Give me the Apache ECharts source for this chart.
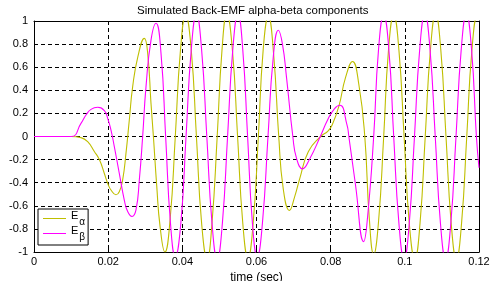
<!DOCTYPE html>
<html>
<head>
<meta charset="utf-8">
<script src="https://cdn.jsdelivr.net/npm/echarts@6/dist/echarts.min.js"></script>
<style>
  html, body { margin: 0; padding: 0; background: #fff; }
  #main { width: 499px; height: 281px; }
</style>
</head>
<body>
<div id="main"></div>
<script>
// tick values
var xTicks = [0, 0.02, 0.04, 0.06, 0.08, 0.1, 0.12];
var yTicks = [-1, -0.8, -0.6, -0.4, -0.2, 0, 0.2, 0.4, 0.6, 0.8, 1];

// E alpha, [time, value]
var alphaData = [
  [0, 0], [0.01, 0], [0.01267, -0.01], [0.01447, -0.045], [0.01627, -0.13], [0.01762, -0.2],
  [0.01897, -0.32], [0.01987, -0.405], [0.02076, -0.463], [0.0221, -0.504], [0.023, -0.478],
  [0.0239, -0.377], [0.0248, -0.146], [0.0257, 0.143], [0.0266, 0.43], [0.028, 0.69],
  [0.02975, 0.85], [0.03066, 0.72], [0.03155, 0.287], [0.0322, 0], [0.0331, -0.43], [0.034, -0.78],
  [0.0353, -1.0], [0.0367, -0.72], [0.0381, 0], [0.0395, 0.75],
  [0.0409, 1.05], [0.0424, 0.75], [0.0438, 0], [0.0452, -0.75], [0.0467, -1.06], [0.0480, -0.75],
  [0.0494, 0], [0.0507, 0.75], [0.0520, 1.06], [0.0535, 0.75], [0.0549, 0], [0.0563, -0.75],
  [0.0577, -1.05], [0.0591, -0.75], [0.0605, 0], [0.0618, 0.75], [0.0632, 1.04], [0.0646, 0.72],
  [0.0660, 0], [0.0672, -0.45], [0.0689, -0.64], [0.0703, -0.52], [0.0717, -0.36], [0.0740, -0.13],
  [0.0773, 0], [0.0792, 0.045], [0.0804, 0.10], [0.0822, 0.26], [0.0840, 0.51], [0.0859, 0.65],
  [0.0876, 0.45], [0.0892, 0], [0.0904, -0.7], [0.0916, -1.02], [0.0929, -0.74], [0.0943, 0],
  [0.0956, 0.75], [0.0970, 1.05], [0.0984, 0.75], [0.0998, 0], [0.1012, -0.75], [0.1027, -1.06],
  [0.1041, -0.75], [0.1055, 0], [0.1069, 0.75], [0.1083, 1.06], [0.1097, 0.75], [0.1111, 0],
  [0.1125, -0.75], [0.1139, -1.06], [0.1153, -0.75], [0.1167, 0], [0.1181, 0.75], [0.1196, 1.05],
  [0.12, 1.02]
];

// E beta
var betaData = [
  [0, 0], [0.01, 0], [0.01267, 0.114], [0.01402, 0.186], [0.01537, 0.235], [0.01717, 0.253],
  [0.01897, 0.224], [0.01987, 0.157], [0.02076, 0.056], [0.02166, -0.088], [0.023, -0.319],
  [0.02435, -0.55], [0.02526, -0.65], [0.02643, -0.693], [0.0275, -0.636], [0.0284, -0.377],
  [0.0293, 0], [0.0302, 0.43], [0.03155, 0.835], [0.0329, 0.98], [0.03425, 0.72], [0.0355, 0],
  [0.0368, -0.75],
  [0.0381, -1.04], [0.0396, -0.75], [0.0410, 0], [0.0424, 0.75], [0.0438, 1.06], [0.0452, 0.75],
  [0.0466, 0], [0.0480, -0.75], [0.0494, -1.06], [0.0508, -0.75], [0.0522, 0], [0.0536, 0.75],
  [0.0550, 1.06], [0.0563, 0.75], [0.0576, 0], [0.0589, -0.75], [0.0602, -1.04], [0.0616, -0.75],
  [0.0631, 0], [0.0645, 0.68], [0.0659, 0.92], [0.0670, 0.8], [0.0681, 0.51], [0.0698, 0],
  [0.0708, -0.19], [0.0724, -0.28], [0.0744, -0.19], [0.0772, 0], [0.0792, 0.145], [0.0810, 0.24],
  [0.0825, 0.27], [0.0844, 0.10], [0.0849, 0], [0.0867, -0.42], [0.0889, -0.91], [0.0900, -0.68],
  [0.0916, 0], [0.0929, 0.75], [0.0943, 1.05], [0.0957, 0.75], [0.0970, 0], [0.0984, -0.75],
  [0.0998, -1.06], [0.1012, -0.75], [0.1026, 0], [0.1040, 0.75], [0.1054, 1.06], [0.1068, 0.75],
  [0.1082, 0], [0.1096, -0.75], [0.1110, -1.06], [0.1124, -0.75], [0.1138, 0], [0.1152, 0.75],
  [0.1166, 1.06], [0.1180, 0.75], [0.1193, 0], [0.12, -0.27]
];

var seriesNames = ['E_alpha', 'E_beta'];
var seriesColors = ['#bfbf00', '#ff00ff'];

var font = 'Liberation Sans, Arial, sans-serif';
var dash = [4, 3];

var chart = echarts.init(document.getElementById('main'), null, { renderer: 'canvas' });

function fmt(v) {
  return String(+v.toFixed(2));
}

var frameAxis = {
  type: 'value',
  axisLine: { show: true, onZero: false, lineStyle: { color: '#000', width: 1 } },
  axisTick: { show: true, inside: true, length: 4, lineStyle: { color: '#000' } },
  axisLabel: { show: false },
  splitLine: { show: false }
};

var option = {
  animation: false,
  backgroundColor: '#fff',
  title: {
    text: 'Simulated Back-EMF alpha-beta components',
    left: 137,
    top: 5,
    padding: 0,
    textStyle: { fontFamily: font, fontSize: 11.5, fontWeight: 'normal', color: '#000' }
  },
  legend: {
    orient: 'vertical',
    left: 38,
    top: 209,
    padding: [1, 3, 3, 5],
    itemWidth: 23,
    itemHeight: 14,
    itemGap: -2,
    icon: 'path://M0,0h23v1h-23z',
    borderColor: '#000',
    borderWidth: 1,
    borderRadius: 0,
    backgroundColor: '#fff',
    data: seriesNames,
    formatter: function (name) {
      return name === 'E_alpha' ? '{e|E}{sub|\u03b1}' : '{e|E}{sub|\u03b2}';
    },
    textStyle: {
      fontFamily: font,
      color: '#000',
      rich: {
        e: { fontFamily: font, fontSize: 11, color: '#000', verticalAlign: 'top' },
        sub: { fontFamily: font, fontSize: 10, color: '#000', verticalAlign: 'bottom', padding: [7, 0, 0, 1] }
      }
    }
  },
  grid: {
    left: 34,
    right: 20,
    top: 21,
    bottom: 29,
    outerBoundsMode: 'none',
    containLabel: false
  },
  xAxis: [
    {
      type: 'value',
      min: xTicks[0],
      max: xTicks[xTicks.length - 1],
      interval: 0.02,
      name: 'time (sec)',
      nameLocation: 'middle',
      nameGap: 16,
      nameTextStyle: { fontFamily: font, fontSize: 12, color: '#000' },
      axisLine: { show: true, onZero: false, lineStyle: { color: '#000', width: 1 } },
      axisTick: { show: true, inside: true, length: 4, lineStyle: { color: '#000' } },
      axisLabel: { margin: 4, fontFamily: font, fontSize: 11, color: '#000', formatter: fmt },
      splitLine: { show: true, lineStyle: { color: '#000', width: 1, type: dash } }
    },
    Object.assign({ position: 'top', min: xTicks[0], max: xTicks[xTicks.length - 1], interval: 0.02 }, frameAxis)
  ],
  yAxis: [
    {
      type: 'value',
      min: yTicks[0],
      max: yTicks[yTicks.length - 1],
      interval: 0.2,
      axisLine: { show: true, onZero: false, lineStyle: { color: '#000', width: 1 } },
      axisTick: { show: true, inside: true, length: 4, lineStyle: { color: '#000' } },
      axisLabel: { margin: 6, fontFamily: font, fontSize: 11, color: '#000', formatter: fmt },
      splitLine: { show: true, lineStyle: { color: '#000', width: 1, type: dash } }
    },
    Object.assign({ position: 'right', min: yTicks[0], max: yTicks[yTicks.length - 1], interval: 0.2 }, frameAxis)
  ],
  series: [
    {
      name: seriesNames[0],
      type: 'line',
      data: alphaData,
      symbol: 'none',
      smooth: 0.5,
      clip: true,
      color: seriesColors[0],
      lineStyle: { color: seriesColors[0], width: 1.1 }
    },
    {
      name: seriesNames[1],
      type: 'line',
      data: betaData,
      symbol: 'none',
      smooth: 0.5,
      clip: true,
      color: seriesColors[1],
      lineStyle: { color: seriesColors[1], width: 1.1 }
    }
  ]
};

chart.setOption(option);
</script>
</body>
</html>
